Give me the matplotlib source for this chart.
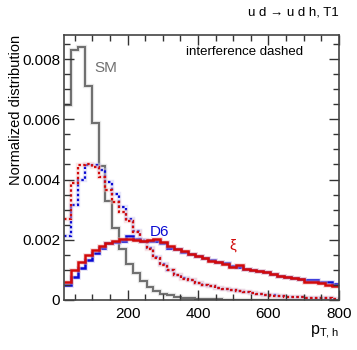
import numpy as np
import matplotlib
matplotlib.use("Agg")
import matplotlib.pyplot as plt

plt.rcParams['font.family'] = ['Liberation Sans', 'DejaVu Sans']
plt.rcParams['mathtext.fontset'] = 'custom'
plt.rcParams['mathtext.rm'] = 'Liberation Sans'

# 40 bins between 20 and 800
x_lo = 20
x_hi = 800
n_bins = 40

sm = [0.00647, 0.0083, 0.0084, 0.0071, 0.00587, 0.00444, 0.00327, 0.00239, 0.00168, 0.0012,
      0.00088, 0.00062, 0.00043, 0.0003, 0.00021, 0.00015, 0.00011, 0.00008, 0.00006, 0.00004,
      0.00003, 0.00002, 0.00002, 0.00001, 0.00001, 0.00001, 0.00001, 0.0, 0.0, 0.0,
      0.0, 0.0, 0.0, 0.0, 0.0, 0.0, 0.0, 0.0, 0.0, 0.0]

d6_full = [0.0005, 0.00077, 0.00107, 0.00132, 0.00155, 0.00173, 0.00188, 0.00194, 0.00196, 0.00212,
           0.00203, 0.00195, 0.00195, 0.00197, 0.00188, 0.00172, 0.00168, 0.0016, 0.00152, 0.00147,
           0.00138, 0.00132, 0.00127, 0.00122, 0.00114, 0.00108, 0.00104, 0.001, 0.00097, 0.00093,
           0.00087, 0.00081, 0.00076, 0.00074, 0.00071, 0.00067, 0.00066, 0.0006, 0.00058, 0.00054]

xi_full = [0.00061, 0.001, 0.00125, 0.00148, 0.00165, 0.00179, 0.00188, 0.00196, 0.00201, 0.00204,
           0.002, 0.00197, 0.00199, 0.00201, 0.00191, 0.0018, 0.0017, 0.00162, 0.00153, 0.00146,
           0.0014, 0.00131, 0.00126, 0.0012, 0.0011, 0.00116, 0.00104, 0.00099, 0.00095, 0.00092,
           0.00086, 0.0008, 0.00076, 0.00073, 0.0007, 0.00058, 0.0006, 0.00056, 0.00051, 0.00046]

d6_int = [0.00212, 0.00315, 0.00398, 0.00448, 0.00447, 0.0043, 0.00393, 0.00352, 0.0031, 0.00268,
          0.0023, 0.002, 0.00174, 0.00144, 0.00118, 0.001, 0.00083, 0.00073, 0.00066, 0.00057,
          0.0005, 0.00046, 0.00041, 0.00036, 0.00033, 0.00029, 0.00026, 0.00022, 0.0002, 0.00017,
          0.00015, 0.00012, 0.00011, 0.0001, 0.00009, 0.00008, 0.00007, 0.00006, 0.00005, 0.00004]

xi_int = [0.00268, 0.00387, 0.00447, 0.00452, 0.0044, 0.0041, 0.00365, 0.00326, 0.00292, 0.00262,
          0.00226, 0.00197, 0.0017, 0.0014, 0.00116, 0.00099, 0.00082, 0.00071, 0.00065, 0.00056,
          0.0005, 0.00045, 0.0004, 0.00036, 0.00032, 0.00029, 0.00025, 0.00022, 0.00019, 0.00017,
          0.00014, 0.00012, 0.00011, 0.0001, 0.00009, 0.00008, 0.00007, 0.00006, 0.00005, 0.00004]

edges = np.linspace(x_lo, x_hi, n_bins + 1)

fig = plt.figure(figsize=(3.57, 3.5), dpi=100)
ax = fig.add_axes([0.18, 0.143, 0.769, 0.757])

grey = '#707070'
blue = '#0a0ad2'
red = '#d20a0a'

def hist(vals, col, ls='-', lw=1.8, halo='#cccccc'):
    # light band underneath, like the stat. error band
    ax.stairs(vals, edges, baseline=None, color=halo, lw=lw + 1.6, alpha=0.45)
    ax.stairs(vals, edges, baseline=None, color=col, lw=lw, linestyle=ls)

hist(sm, grey, lw=1.5, halo='#d0d0d0')
hist(d6_int, blue, ls=(0, (1.1, 1.1)), lw=1.6, halo='#c8c8f5')
hist(xi_int, red, ls=(0, (1.1, 1.1)), lw=1.6, halo='#f5c8c8')
hist(d6_full, blue, lw=1.8, halo='#b8b8f0')
hist(xi_full, red, lw=1.8, halo='#f0b8b8')

ax.set_xlim(x_lo, x_hi)
ax.set_ylim(0, 0.0088)
ax.set_xticks([200, 400, 600, 800])
ax.set_xticks(np.arange(50, 800, 50), minor=True)
ax.set_yticks([0, 0.002, 0.004, 0.006, 0.008])
ax.set_yticklabels(['0', '0.002', '0.004', '0.006', '0.008'])
ax.set_yticks(np.arange(0, 0.0088, 0.0005), minor=True)
ax.tick_params(which='both', direction='in', top=True, right=True, labelsize=11, color='#333333')
ax.tick_params(which='major', length=7, width=1)
ax.tick_params(which='minor', length=4, width=1)
ax.tick_params(axis='x', pad=5)
ax.tick_params(axis='y', pad=3)
for s in ax.spines.values():
    s.set_color('#444444')
    s.set_linewidth(1.2)

ax.set_ylabel('Normalized distribution', fontsize=10.5, loc='top', labelpad=-1)
fig.text(0.949, 0.025, r'$\mathregular{p_{T,h}}$', fontsize=11.5, ha='right', va='bottom')
fig.text(0.949, 0.965, 'u d \u2192 u d h, T1', fontsize=9.5, ha='right', va='center')
ax.text(0.445, 0.937, 'interference dashed', transform=ax.transAxes, fontsize=9.5, ha='left', va='center')
ax.text(106, 0.0077, 'SM', color=grey, fontsize=11, ha='left', va='center')
ax.text(263, 0.00225, 'D6', color=blue, fontsize=11, ha='left', va='center')
ax.text(490, 0.0018, '\u03be', color=red, fontsize=11, ha='left', va='center')

fig.savefig('out.png', dpi=100)
